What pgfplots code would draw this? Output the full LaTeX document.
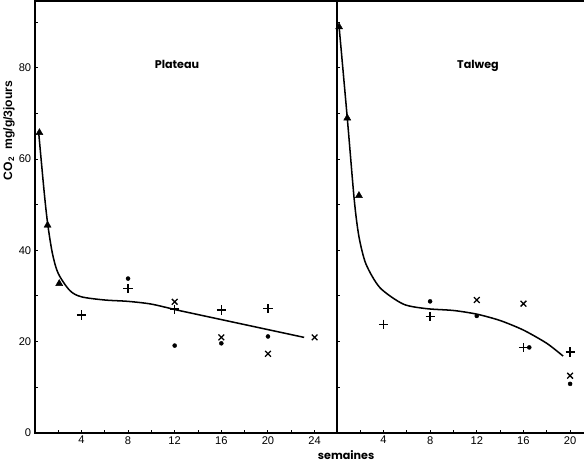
\documentclass[border=0pt]{standalone}
\usepackage{pgfplots}
\pgfplotsset{compat=1.18}
\usepackage{fontspec}
\setmainfont{Liberation Sans}
\newfontfamily\titlefont{Poppins}

\pgfplotsset{
  panel/.style={
    scale only axis, height=426pt,
    ymin=0, ymax=94.7,
    ytick={0,20,...,80}, minor ytick={10,30,...,90},
    tick style={black, line width=1pt},
    major tick length=3pt, minor tick length=3pt,
    axis line style={line width=1.8pt},
    tick label style={font=\fontsize{11}{11}\selectfont},
    /pgf/number format/assume math mode=true,
    clip=false,
  },
  curve/.style={black, line width=1.5pt, no marks},
  tri/.style={only marks, mark=triangle*, mark size=4pt, black},
  plus/.style={only marks, mark=+, mark size=4.5pt, black, mark options={line width=1.3pt}},
  dot/.style={only marks, mark=*, mark size=2pt, black},
  cross/.style={only marks, mark=x, mark size=4pt, black, mark options={line width=1.3pt}},
}

\begin{document}
\begin{tikzpicture}
% Plateau
\begin{axis}[panel, name=left, width=298pt,
  xmin=0, xmax=25.9,
  xtick={4,8,...,24}, ytick pos=left, xtick pos=bottom,
  minor xtick={2,6,...,22},
]
\addplot[curve, smooth, tension=0.5] coordinates {
  (0.35,65.5)(0.8,53)(1.1,46)(1.5,39.5)(2,35)(3,31.2)(4,29.8)
  (6,29.1)(8,28.8)(10,28.2)(12,27.0)};
\addplot[curve] coordinates {(12,27.0)(23.1,20.9)};
\addplot[tri] coordinates {(0.4,65.8)(1.1,45.5)(2.1,32.7)};
\addplot[plus] coordinates {(4,25.8)(8,31.6)(12,27.1)(16,26.9)(20,27.2)};
\addplot[dot] coordinates {(8,33.8)(12,19.1)(16,19.6)(20,21.1)};
\addplot[cross] coordinates {(12,28.7)(16,20.9)(20,17.3)(24,20.9)};
\node[font=\titlefont\bfseries\fontsize{11}{11}\selectfont] at (axis cs:12.2,80.7) {Plateau};
\node[rotate=90, font=\bfseries\fontsize{12}{12}\selectfont] at (rel axis cs:-0.085,0.70)
  {CO$_{\mathbf{2}}$\hspace{0.6em}mg/g/3jours};
\end{axis}
% Talweg
\begin{axis}[panel, width=244pt, at={(left.south east)}, anchor=south west,
  xmin=0, xmax=21.2,
  xtick={4,8,...,20}, minor xtick={2,6,...,18},
  axis x line*=box, axis y line*=left,
  yticklabels={}, xtick pos=bottom,
]
\addplot[curve, smooth, tension=0.45] coordinates {
  (0.2,89)(0.9,69)(1.5,51)(1.9,43)(2.5,37)(3.7,31.8)(5.7,28.2)
  (7.7,27.2)(10,26.8)(12,26.0)(14,24.6)(16,22.5)(18,19.6)(19.4,16.8)};
\addplot[tri] coordinates {(0.2,89)(0.9,69)(1.9,52)};
\addplot[plus] coordinates {(4,23.8)(8,25.5)(16,18.7)(20,17.7)};
\addplot[dot] coordinates {(8,28.8)(12,25.6)(16.5,18.7)(20,10.7)};
\addplot[cross] coordinates {(12,29.1)(16,28.3)(20,12.5)};
\node[font=\titlefont\bfseries\fontsize{11}{11}\selectfont] at (axis cs:12.1,80.4) {Talweg};
\node[font=\titlefont\bfseries\fontsize{11}{11}\selectfont, anchor=north] at (axis cs:0.8,-3.2) {semaines};
\end{axis}
\end{tikzpicture}
\end{document}
